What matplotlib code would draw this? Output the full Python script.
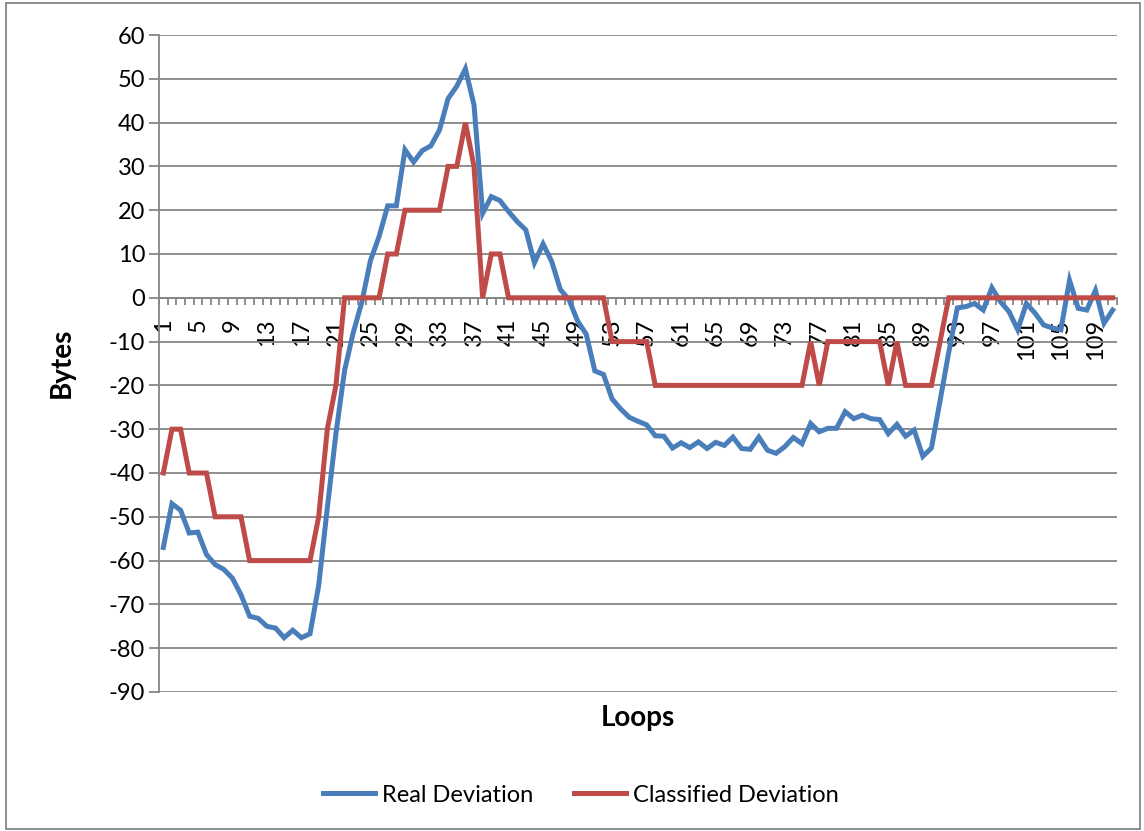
import matplotlib
matplotlib.use("Agg")
import matplotlib.pyplot as plt
from matplotlib.patches import Rectangle
import numpy as np

loops = list(range(1, 112))
real_deviation = [
    -57, -47, -48.5, -53.7, -53.5, -58.6, -60.9, -62, -64, -67.8,
    -72.7, -73.2, -75, -75.4, -77.6, -75.9, -77.6, -76.7, -65.7, -48,
    -31, -16.6, -8, -1, 8.5, 14, 21, 21, 33.8, 31,
    33.6, 34.7, 38.3, 45.5, 48.3, 52.3, 44, 19.3, 23.1, 22.2,
    19.7, 17.4, 15.5, 8, 12.3, 8.3, 1.9, -0.4, -5.3, -8.3,
    -16.7, -17.5, -23.1, -25.4, -27.3, -28.2, -29, -31.5, -31.6, -34.3,
    -33.1, -34.2, -32.9, -34.4, -33, -33.7, -31.8, -34.4, -34.6, -31.8,
    -34.8, -35.5, -34, -31.9, -33.3, -28.7, -30.6, -29.8, -29.8, -26,
    -27.6, -26.8, -27.6, -27.8, -31, -28.9, -31.6, -30.2, -36.2, -34.3,
    -23.5, -12.5, -2.3, -2, -1.3, -2.8, 2.3, -0.9, -3.2, -7.3,
    -1.3, -3.5, -6.2, -6.9, -7.3, 4, -2.4, -2.8, 1.7, -5.8,
    -2.8,
]
classified_deviation = [
    -40, -30, -30, -40, -40, -40, -50, -50, -50, -50,
    -60, -60, -60, -60, -60, -60, -60, -60, -50, -30,
    -20, 0, 0, 0, 0, 0, 10, 10, 20, 20,
    20, 20, 20, 30, 30, 40, 30, 0, 10, 10,
    0, 0, 0, 0, 0, 0, 0, 0, 0, 0,
    0, 0, -10, -10, -10, -10, -10, -20, -20, -20,
    -20, -20, -20, -20, -20, -20, -20, -20, -20, -20,
    -20, -20, -20, -20, -20, -10, -20, -10, -10, -10,
    -10, -10, -10, -10, -20, -10, -20, -20, -20, -20,
    -10, 0, 0, 0, 0, 0, 0, 0, 0, 0,
    0, 0, 0, 0, 0, 0, 0, 0, 0, 0,
    0,
]
y_ticks = list(range(-90, 61, 10))
y_tick_labels = [str(v) for v in y_ticks]
x_label_every = 4
series_names = ["Real Deviation", "Classified Deviation"]

plt.rcParams['font.family'] = ['Lato', 'DejaVu Sans']
plt.rcParams['axes.unicode_minus'] = False

W, H = 1144, 831
fig = plt.figure(figsize=(W / 100, H / 100), dpi=100)
ax = fig.add_axes([159 / W, 1 - 692 / H, (1117 - 159) / W, (692 - 35) / H])

grey = '#868686'
blue = '#4A7EBB'
red = '#BE4B48'

ax.plot(loops, real_deviation, color=blue, lw=3.6, solid_joinstyle='miter', label=series_names[0], zorder=3)
ax.plot(loops, classified_deviation, color=red, lw=3.6, solid_joinstyle='miter', label=series_names[1], zorder=4)

ax.set_xlim(0.5, len(loops) + 0.5)
ax.set_ylim(-90, 60)
ax.set_yticks(y_ticks)
ax.set_yticklabels(y_tick_labels, fontsize=17)
ax.yaxis.grid(True, color=grey, lw=1.3)
ax.set_axisbelow(True)

for s in ['top', 'right']:
    ax.spines[s].set_visible(False)
ax.spines['left'].set_color(grey)
ax.spines['left'].set_linewidth(1.3)
ax.spines['bottom'].set_position(('data', 0))
ax.spines['bottom'].set_color(grey)
ax.spines['bottom'].set_linewidth(1.3)

ax.tick_params(axis='y', direction='out', length=7, width=1.3, color=grey, pad=3)

major_x = loops[::x_label_every]
ax.set_xticks(major_x)
ax.set_xticklabels([str(v) for v in major_x], rotation=90, fontsize=17, va='top', ha='center')
ax.set_xticks(np.arange(0.5, len(loops) + 1, 1.0), minor=True)
ax.tick_params(axis='x', which='major', length=0, pad=15)
ax.tick_params(axis='x', which='minor', direction='out', length=5, width=1.3, color=grey)

fig.text(62 / W, 1 - 363 / H, 'Bytes', rotation=90, fontsize=20, fontweight='bold', ha='center', va='center')
fig.text(638 / W, 1 - 718 / H, 'Loops', fontsize=20, fontweight='bold', ha='center', va='center')

fig.legend(loc='center', bbox_to_anchor=(581 / W, 1 - 795 / H), ncol=2, frameon=False,
           fontsize=17, handlelength=2.2, handletextpad=0.3, columnspacing=1.7)

fig.patches.append(Rectangle((6 / W, 2 / H), (1140 - 6) / W, (828 - 2) / H, transform=fig.transFigure,
                             fill=False, edgecolor=grey, lw=1.3))

fig.savefig('out.png', dpi=100)
